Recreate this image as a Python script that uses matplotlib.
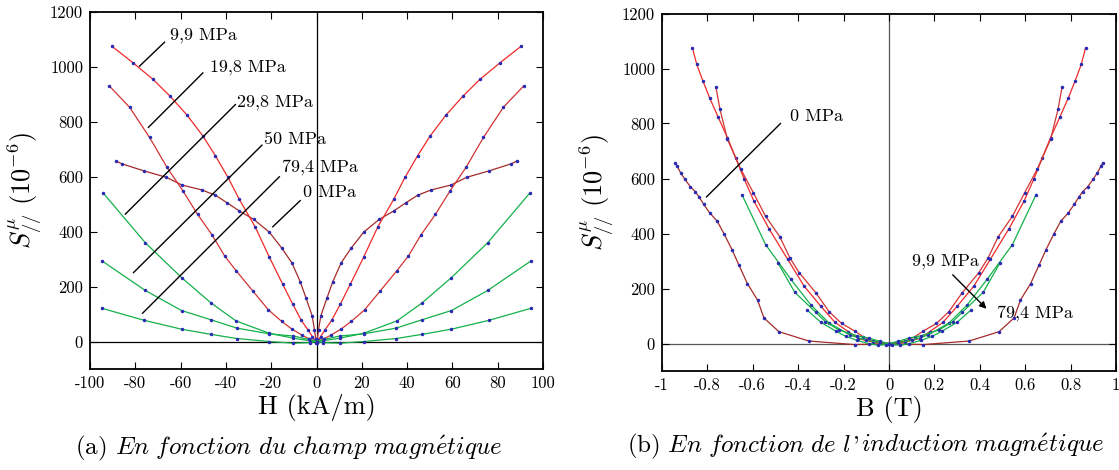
import matplotlib
matplotlib.use("Agg")
import matplotlib.pyplot as plt
from matplotlib.offsetbox import TextArea, HPacker, AnchoredOffsetbox

plt.rcParams['font.family'] = ['cmr10', 'DejaVu Serif']
plt.rcParams['mathtext.fontset'] = 'cm'
plt.rcParams['axes.unicode_minus'] = False
plt.rcParams['axes.formatter.use_mathtext'] = True

# S//mu (1e-6) against H (kA/m) and B (T), one set per stress level
S_0 = [657, 647, 621, 598, 570, 552, 533, 506, 475, 445, 398, 340, 287, 218, 158, 93, 43, 9, -4, 0,
       -4, 9, 43, 93, 158, 218, 287, 340, 398, 445, 475, 506, 533, 552, 570, 598, 621, 647, 657]
H_0 = [-88.4, -85.9, -76.0, -66.3, -59.4, -50.6, -44.7, -39.6, -34.0, -27.7, -20.8, -15.3, -10.9, -7.2, -4.6, -1.9, -0.9, -0.35, -0.12, 0,
       0.12, 0.35, 0.9, 1.9, 4.6, 7.2, 10.9, 15.3, 20.8, 27.7, 34.0, 39.6, 44.7, 50.6, 59.4, 66.3, 76.0, 85.9, 88.4]
B_0 = [-0.941, -0.935, -0.918, -0.900, -0.875, -0.853, -0.837, -0.816, -0.790, -0.757, -0.726, -0.691, -0.662, -0.624, -0.579, -0.551, -0.485, -0.353, -0.150, 0,
       0.150, 0.353, 0.485, 0.551, 0.579, 0.624, 0.662, 0.691, 0.726, 0.757, 0.790, 0.816, 0.837, 0.853, 0.875, 0.900, 0.918, 0.935, 0.941]

S_9 = [1075, 1015, 955, 893, 824, 749, 676, 598, 518, 418, 307, 210, 136, 77, 43, 18, 5, 0,
       5, 18, 43, 77, 136, 210, 307, 418, 518, 598, 676, 749, 824, 893, 955, 1015, 1075]
H_9 = [-90.3, -81.0, -72.2, -64.6, -57.1, -50.2, -44.6, -39.1, -34.1, -27.1, -20.8, -15.0, -10.5, -6.7, -3.8, -1.8, -0.8, 0,
       0.8, 1.8, 3.8, 6.7, 10.5, 15.0, 20.8, 27.1, 34.1, 39.1, 44.6, 50.2, 57.1, 64.6, 72.2, 81.0, 90.3]
B_9 = [-0.866, -0.847, -0.820, -0.790, -0.753, -0.712, -0.676, -0.638, -0.595, -0.529, -0.447, -0.375, -0.301, -0.238, -0.179, -0.135, -0.070, 0,
       0.070, 0.135, 0.179, 0.238, 0.301, 0.375, 0.447, 0.529, 0.595, 0.638, 0.676, 0.712, 0.753, 0.790, 0.820, 0.847, 0.866]

S_19 = [931, 853, 743, 634, 549, 463, 388, 312, 258, 184, 115, 73, 45, 24, 9, 0,
        9, 24, 45, 73, 115, 184, 258, 312, 388, 463, 549, 634, 743, 853, 931]
H_19 = [-91.5, -82.5, -73.7, -66.0, -59.0, -52.5, -46.1, -40.6, -35.5, -28.1, -21.2, -15.3, -10.8, -6.5, -3.1, 0,
        3.1, 6.5, 10.8, 15.3, 21.2, 28.1, 35.5, 40.6, 46.1, 52.5, 59.0, 66.0, 73.7, 82.5, 91.5]
B_19 = [-0.762, -0.745, -0.712, -0.653, -0.598, -0.544, -0.481, -0.437, -0.396, -0.322, -0.263, -0.209, -0.150, -0.113, -0.069, 0,
        0.069, 0.113, 0.150, 0.209, 0.263, 0.322, 0.396, 0.437, 0.481, 0.544, 0.598, 0.653, 0.712, 0.745, 0.762]

S_30 = [540, 360, 233, 140, 75, 30, 12, 3, 0, 3, 12, 30, 75, 140, 233, 360, 540]
H_30 = [-94.1, -75.6, -59.6, -46.5, -35.5, -20.8, -10.2, -2.8, 0, 2.8, 10.2, 20.8, 35.5, 46.5, 59.6, 75.6, 94.1]
B_30 = [-0.647, -0.544, -0.432, -0.344, -0.265, -0.170, -0.100, -0.040, 0,
        0.040, 0.100, 0.170, 0.265, 0.344, 0.432, 0.544, 0.647]

S_50 = [293, 186, 113, 79, 49, 28, 20, 8, 0, 8, 20, 28, 49, 79, 113, 186, 293]
H_50 = [-94.6, -75.6, -59.6, -46.5, -35.2, -20.8, -10.2, -3.5, 0, 3.5, 10.2, 20.8, 35.2, 46.5, 59.6, 75.6, 94.6]
B_50 = [-0.489, -0.415, -0.322, -0.280, -0.220, -0.140, -0.090, -0.040, 0,
        0.040, 0.090, 0.140, 0.220, 0.280, 0.322, 0.415, 0.489]

S_79 = [121, 77, 45, 26, 11, 0, -6, -4, 0, -4, -6, 0, 11, 26, 45, 77, 121]
H_79 = [-94.7, -76.0, -59.6, -46.5, -35.2, -20.8, -10.2, -2.8, 0, 2.8, 10.2, 20.8, 35.2, 46.5, 59.6, 76.0, 94.7]
B_79 = [-0.360, -0.300, -0.234, -0.190, -0.140, -0.090, -0.050, -0.015, 0,
        0.015, 0.050, 0.090, 0.140, 0.190, 0.234, 0.300, 0.360]

red = '#ee2a2a'
red2 = '#d23434'
brown = '#a52a2a'
green = '#14b04a'
dots = '#2a2ab4'

curves = [(H_0, B_0, S_0, brown), (H_9, B_9, S_9, red), (H_19, B_19, S_19, red2),
          (H_30, B_30, S_30, green), (H_50, B_50, S_50, green), (H_79, B_79, S_79, green)]

W, Hpx = 1119, 470
fig = plt.figure(figsize=(W / 100, Hpx / 100), dpi=100)
ax1 = fig.add_axes([90 / W, 1 - 369 / Hpx, 453 / W, 357 / Hpx])
ax2 = fig.add_axes([662 / W, 1 - 371 / Hpx, 454 / W, 357.5 / Hpx])

for ax in (ax1, ax2):
    ax.set_ylim(-100, 1200)
    ax.set_yticks([0, 200, 400, 600, 800, 1000, 1200])
    ax.set_yticklabels(['0', '200', '400', '600', '800', '1000', '1200'])
    ax.tick_params(direction='in', top=True, right=True, length=5, width=0.8,
                   labelsize=12, pad=5)
    for sp in ax.spines.values():
        sp.set_linewidth(1.3)
    ax.set_ylabel(r'$S^{\mu}_{//}\ \mathrm{(10^{-6})}$', fontsize=19, labelpad=4)

# left: against H
ax1.axhline(0, color='k', lw=0.9, zorder=1)
ax1.axvline(0, color='k', lw=0.9, zorder=1)
for H, B, S, c in curves:
    ax1.plot(H, S, color=c, lw=0.9, marker='.', ms=3, mfc=dots, mec=dots, zorder=3)
ax1.set_xlim(-100, 100)
ax1.set_xticks(range(-100, 101, 20))
ax1.set_xticklabels(['-100', '-80', '-60', '-40', '-20', '0', '20', '40', '60', '80', '100'])
ax1.set_xlabel('H (kA/m)', fontsize=19, labelpad=2)

left_notes = [
    ('9,9 MPa', (-67.1, 1090), (-78.1, 1003), (-64.9, 1115)),
    ('19,8 MPa', (-50.2, 978), (-74.2, 780), (-46.9, 1000)),
    ('29,8 MPa', (-35.8, 863), (-84.4, 464), (-34.9, 873)),
    ('50 MPa', (-24.1, 715), (-80.8, 251), (-23.0, 737)),
    ('79,4 MPa', (-16.4, 600), (-76.8, 103), (-15.3, 633)),
    ('0 MPa', (-7.2, 513), (-19.3, 418), (-6.0, 542)),
]
for txt, p1, p2, pt in left_notes:
    ax1.plot([p1[0], p2[0]], [p1[1], p2[1]], color='k', lw=1.0, zorder=4)
    ax1.text(pt[0], pt[1], txt, fontsize=13, ha='left', va='center', zorder=5)

# right: against B
ax2.axhline(0, color='#555555', lw=0.9, zorder=1)
ax2.axvline(0, color='#555555', lw=0.9, zorder=1)
for H, B, S, c in curves:
    ax2.plot(B, S, color=c, lw=0.9, marker='.', ms=3, mfc=dots, mec=dots, zorder=3)
ax2.set_xlim(-1, 1)
ax2.set_xticks([-1, -0.8, -0.6, -0.4, -0.2, 0, 0.2, 0.4, 0.6, 0.8, 1])
ax2.set_xticklabels(['-1', '-0.8', '-0.6', '-0.4', '-0.2', '0', '0.2', '0.4', '0.6', '0.8', '1'])
ax2.set_xlabel('B (T)', fontsize=19, labelpad=2)

ax2.plot([-0.478, -0.804], [800, 533], color='k', lw=1.0, zorder=4)
ax2.text(-0.437, 827, '0 MPa', fontsize=13, ha='left', va='center', zorder=5)
ax2.text(0.100, 300, '9,9 MPa', fontsize=13, ha='left', va='center', zorder=5)
ax2.text(0.475, 111, '79,4 MPa', fontsize=13, ha='left', va='center', zorder=5)
ax2.annotate('', xy=(0.438, 119), xytext=(0.272, 257),
             arrowprops=dict(arrowstyle='-|>', color='k', lw=1.0, mutation_scale=10), zorder=5)

# captions
cap = dict(fontsize=18)
fig.text(289 / W, 1 - 448 / Hpx,
         r'(a) $\mathit{En\ fonction\ du\ champ\ magn\acute{e}tique}$',
         ha='center', va='center', **cap)
parts = [TextArea(r'$\mathrm{(b)}\ \mathit{En\ fonction\ de\ l}$', textprops=cap),
         TextArea("'", textprops=cap),
         TextArea(r'$\mathit{induction\ magn\acute{e}tique}$', textprops=cap)]
row = HPacker(children=parts, align='baseline', pad=0, sep=1)
box = AnchoredOffsetbox(loc='center', child=row, bbox_to_anchor=(866 / W, 1 - 446 / Hpx),
                        bbox_transform=fig.transFigure, frameon=False, pad=0, borderpad=0)
fig.add_artist(box)

fig.savefig('out.png', dpi=100)
